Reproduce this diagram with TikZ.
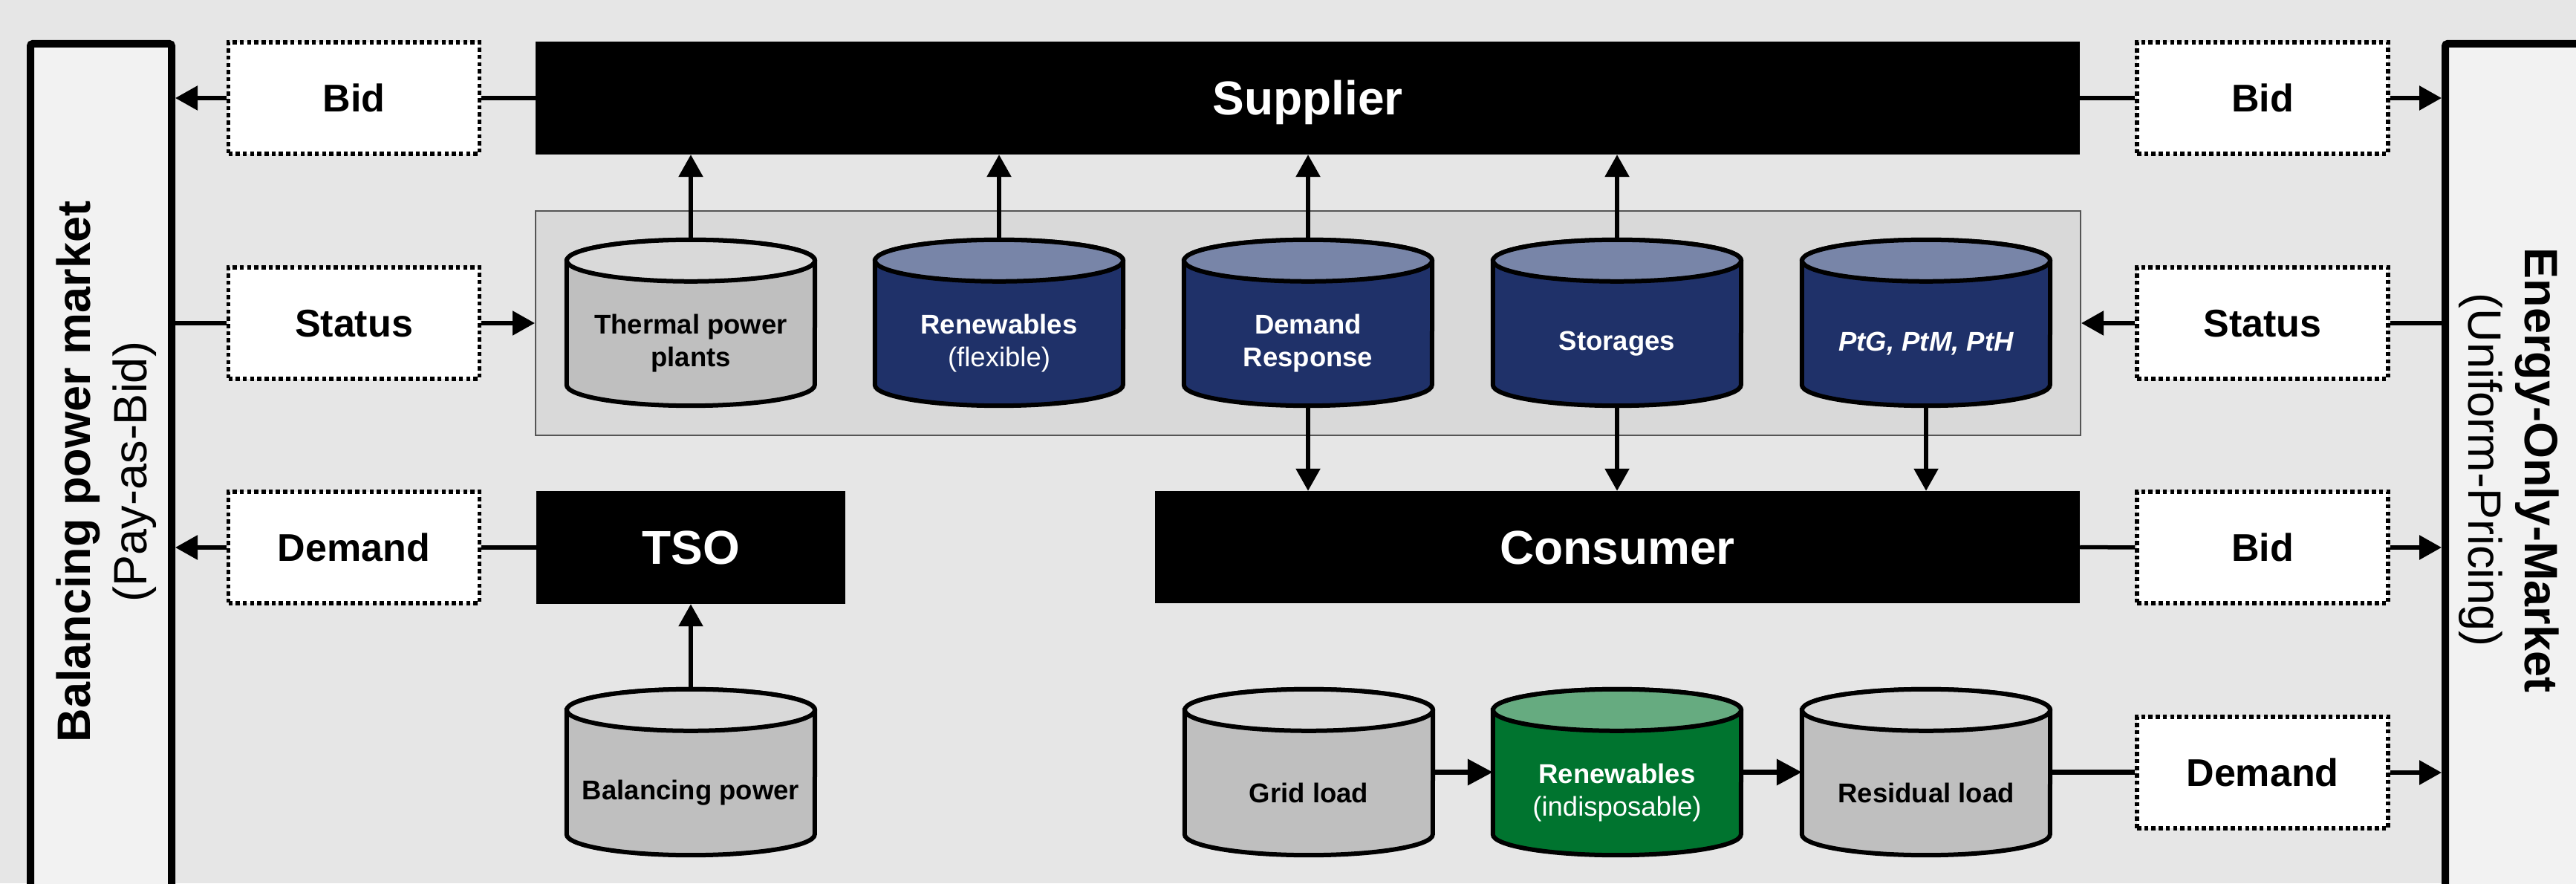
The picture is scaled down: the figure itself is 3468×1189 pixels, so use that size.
\documentclass[tikz,border=0pt]{standalone}
\usepackage{fontspec}
\setmainfont{Liberation Sans}
\usetikzlibrary{arrows.meta}
\definecolor{bg}{HTML}{E6E6E6}
\definecolor{mkt}{HTML}{F2F2F2}
\definecolor{contfill}{HTML}{D9D9D9}
\definecolor{contline}{HTML}{555555}
\definecolor{graybody}{HTML}{BFBFBF}
\definecolor{graytop}{HTML}{D9D9D9}
\definecolor{navybody}{HTML}{1F3169}
\definecolor{navytop}{HTML}{7885A8}
\definecolor{greenbody}{HTML}{00742F}
\definecolor{greentop}{HTML}{66AB80}
\tikzset{
  market/.style={draw=black, line width=10pt, fill=mkt, rounded corners=3pt, inner sep=0pt},
  dotbox/.style={draw=black, fill=white, line width=5.5pt, dash pattern=on 5.5pt off 4.2pt,
    minimum width=338pt, minimum height=150pt, inner sep=0pt,
    text height=37.5pt, text depth=0pt,
    font=\fontsize{52}{62}\selectfont\bfseries},
  blackbox/.style={fill=black, text=white, inner sep=0pt,
    text height=46pt, text depth=0pt,
    font=\fontsize{64}{77}\selectfont\bfseries},
  ln/.style={line width=5.5pt},
  ln2/.style={line width=7pt},
  arr/.style={line width=5.5pt, -{Triangle[length=30pt,width=32pt]}},
  arr2/.style={line width=7pt, -{Triangle[length=34pt,width=34pt]}},
  drumtext/.style={align=center, inner sep=0pt, font=\fontsize{36.5}{44}\selectfont\bfseries},
}
% name, x, y, body colour, top colour, text colour, text
\newcommand{\drum}[7]{%
  \node[minimum width=334pt, minimum height=223pt, inner sep=0pt] (#1) at (#2,#3) {};
  \filldraw[line width=6pt, fill=#4]
    ([yshift=-28pt]#1.north west) -- ([yshift=28pt]#1.south west)
    arc[start angle=180, end angle=360, x radius=167pt, y radius=28pt]
    -- ([yshift=-28pt]#1.north east)
    arc[start angle=0, end angle=180, x radius=167pt, y radius=28pt] -- cycle;
  \filldraw[line width=6pt, fill=#5] ([yshift=-28pt]#1.north) ellipse[x radius=167pt, y radius=28pt];
  \node[drumtext, text=#6] (#1-t) at ([yshift=-28pt]#1.center) {#7};
}
\begin{document}
\begin{tikzpicture}[x=1pt, y=1pt]
\useasboundingbox (0,0) rectangle (3468,1189);
\fill[bg] (0,0) rectangle (3468,1189);
\clip (0,0) rectangle (3468,1189);

% market boxes
\node[market, minimum width=190pt, minimum height=1150pt] (bmL) at (136,555) {};
\node[market, minimum width=228pt, minimum height=1150pt] (bmR) at (3406,555) {};
\node[rotate=90, align=center, inner sep=0pt, font=\fontsize{63}{76}\selectfont] (bmLt) at (143,554)
  {\textbf{Balancing power market}\\(Pay-as-Bid)};
\node[rotate=-90, align=center, inner sep=0pt, font=\fontsize{63}{76}\selectfont] (bmRt) at (3378,556)
  {\textbf{Energy-Only-Market}\\(Uniform-Pricing)};

% container of flexible units
\node[fill=contfill, draw=contline, line width=2pt, minimum width=2080pt, minimum height=302pt, inner sep=0pt] (cont) at (1761,754) {};

% black boxes
\node[blackbox, minimum width=2079pt, minimum height=152pt] (sup) at (1760.5,1057) {Supplier};
\node[blackbox, minimum width=416pt, minimum height=152pt] (tso) at (930,452) {TSO};
\node[blackbox, minimum width=1245pt, minimum height=151pt] (con) at (2177.5,452.5) {Consumer};

% dotted boxes
\node[dotbox] (bidL) at (476.5,1057) {Bid};
\node[dotbox] (statL) at (476.5,754) {Status};
\node[dotbox] (demL) at (476.5,452) {Demand};
\node[dotbox] (bidR1) at (3046,1057) {Bid};
\node[dotbox] (statR) at (3046,754) {Status};
\node[dotbox] (bidR2) at (3046,452) {Bid};
\node[dotbox] (demR) at (3046,149) {Demand};

% cylinders
\drum{th}{930}{754.5}{graybody}{graytop}{black}{Thermal power\\plants}
\drum{rf}{1345}{754.5}{navybody}{navytop}{white}{Renewables\\\mdseries(flexible)}
\drum{dr}{1761}{754.5}{navybody}{navytop}{white}{Demand\\Response}
\drum{st}{2177}{754.5}{navybody}{navytop}{white}{Storages}
\drum{ptx}{2593}{754.5}{navybody}{navytop}{white}{\itshape PtG, PtM, PtH}
\drum{bp}{930}{149.5}{graybody}{graytop}{black}{Balancing power}
\drum{gl}{1762}{149.5}{graybody}{graytop}{black}{Grid load}
\drum{rn}{2177}{149.5}{greenbody}{greentop}{white}{Renewables\\\mdseries(indisposable)}
\drum{res}{2593}{149.5}{graybody}{graytop}{black}{Residual load}

% connectors left side
\draw[ln] (sup.west) -- (bidL.east);
\draw[arr] (bidL.west) -- (bidL.west -| bmL.east);
\draw[ln] (statL.west -| bmL.east) -- (statL.west);
\draw[arr] (statL.east) -- (statL.east -| cont.west);
\draw[ln] (tso.west) -- (demL.east);
\draw[arr] (demL.west) -- (demL.west -| bmL.east);

% connectors right side
\draw[ln] (sup.east) -- (bidR1.west);
\draw[arr] (bidR1.east) -- (bidR1.east -| bmR.west);
\draw[ln] (statR.east -| bmR.west) -- (statR.east);
\draw[arr] (statR.west) -- (statR.west -| cont.east);
\draw[ln] (con.east) -- (bidR2.west);
\draw[arr] (bidR2.east) -- (bidR2.east -| bmR.west);
\draw[ln2] (res.east) -- (res.east -| demR.west);
\draw[arr] (demR.east) -- (demR.east -| bmR.west);

% vertical connectors
\draw[arr] (th.north) -- (th.north |- sup.south);
\draw[arr] (rf.north) -- (rf.north |- sup.south);
\draw[arr] (dr.north) -- (dr.north |- sup.south);
\draw[arr] (st.north) -- (st.north |- sup.south);
\draw[arr] (dr.south) -- (dr.south |- con.north);
\draw[arr] (st.south) -- (st.south |- con.north);
\draw[arr] (ptx.south) -- (ptx.south |- con.north);
\draw[arr] (bp.north) -- (bp.north |- tso.south);

% bottom chain
\draw[arr2] (gl.east) -- (rn.west);
\draw[arr2] (rn.east) -- (res.west);
\end{tikzpicture}
\end{document}
